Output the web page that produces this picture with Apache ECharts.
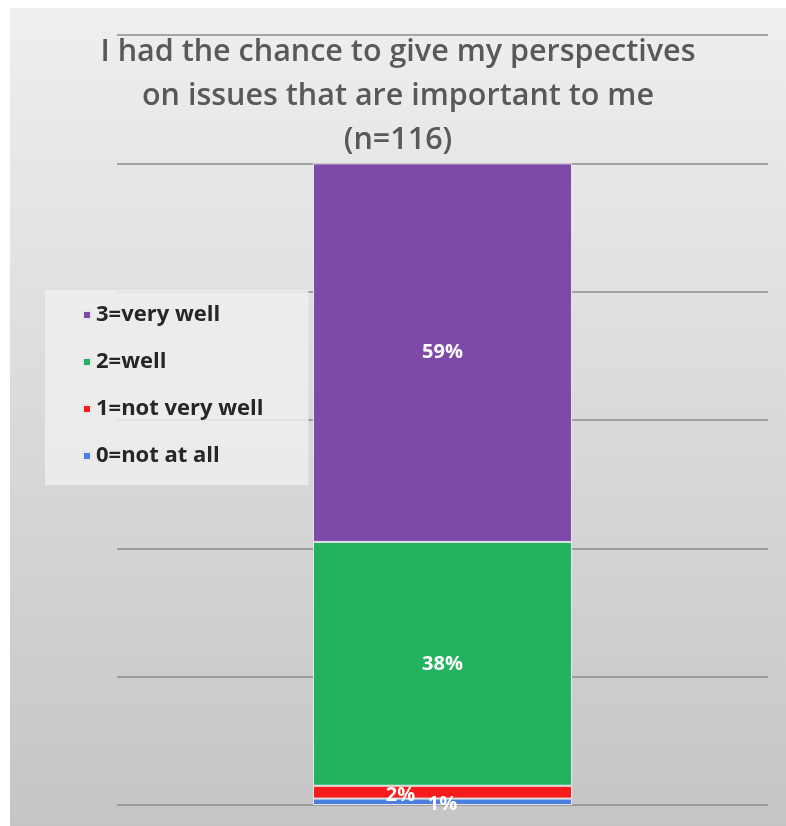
<!DOCTYPE html>
<html>
<head>
<meta charset="utf-8">
<script src="https://cdn.jsdelivr.net/npm/echarts@6/dist/echarts.min.js"></script>
<style>
	html, body { margin: 0; padding: 0; background: #ffffff; }
	#main {
		position: absolute; left: 10px; top: 8px;
		width: 776px; height: 818px;
		background: linear-gradient(#efefef, #c5c5c5);
	}
</style>
</head>
<body>
<div id="main"></div>
<script type="text/javascript">
	// data
	var categories = [''];
	var seriesNames = ['0=not at all', '1=not very well', '2=well', '3=very well'];
	var notAtAll = [1];
	var notVeryWell = [2];
	var well = [38];
	var veryWell = [59];
	var legendOrder = ['3=very well', '2=well', '1=not very well', '0=not at all'];

	var chart = echarts.init(document.getElementById('main'));

	function seg(name, data, color, offset) {
		return {
			name: name,
			type: 'bar',
			stack: 'total',
			barWidth: 259,
			data: data,
			itemStyle: { color: color, borderColor: '#e6e6e6', borderWidth: 1 },
			label: {
				show: true,
				position: 'inside',
				offset: offset || [0, 0],
				formatter: '{c}%',
				color: '#ffffff',
				fontFamily: 'Open Sans',
				fontWeight: 'bold',
				fontSize: 20
			}
		};
	}

	var option = {
		animation: false,
		title: {
			text: 'I had the chance to give my perspectives\non issues that are important to me\n(n=116)',
			left: 'center',
			top: 17,
			padding: [5, 5, 5, 21],
			textStyle: {
				fontFamily: 'Open Sans',
				fontWeight: 600,
				fontSize: 30.5,
				lineHeight: 44,
				color: '#595959'
			}
		},
		legend: {
			data: legendOrder,
			orient: 'vertical',
			left: 35,
			top: 282,
			padding: [12, 45, 16, 37],
			itemWidth: 8,
			itemHeight: 8,
			itemGap: 21,
			icon: 'rect',
			backgroundColor: 'rgba(238,238,238,0.85)',
			textStyle: {
				fontFamily: 'Open Sans',
				fontWeight: 'bold',
				fontSize: 22,
				lineHeight: 26,
				color: '#262626'
			}
		},
		grid: { left: 107, right: 18, top: 27, bottom: 21 },
		xAxis: {
			type: 'category',
			data: categories,
			axisLine: { show: false },
			axisTick: { show: false },
			axisLabel: { show: false }
		},
		yAxis: {
			type: 'value',
			min: 0,
			max: 120,
			interval: 20,
			axisLabel: { show: false },
			splitLine: { lineStyle: { color: '#8c8c8c', width: 1.5 } }
		},
		series: [
			seg(seriesNames[0], notAtAll, '#4a7fe0', [0, 3]),
			seg(seriesNames[1], notVeryWell, '#f71b1b', [-42, 3]),
			seg(seriesNames[2], well, '#23b25f'),
			seg(seriesNames[3], veryWell, '#7e49a9')
		]
	};
	chart.setOption(option);
</script>
</body>
</html>
